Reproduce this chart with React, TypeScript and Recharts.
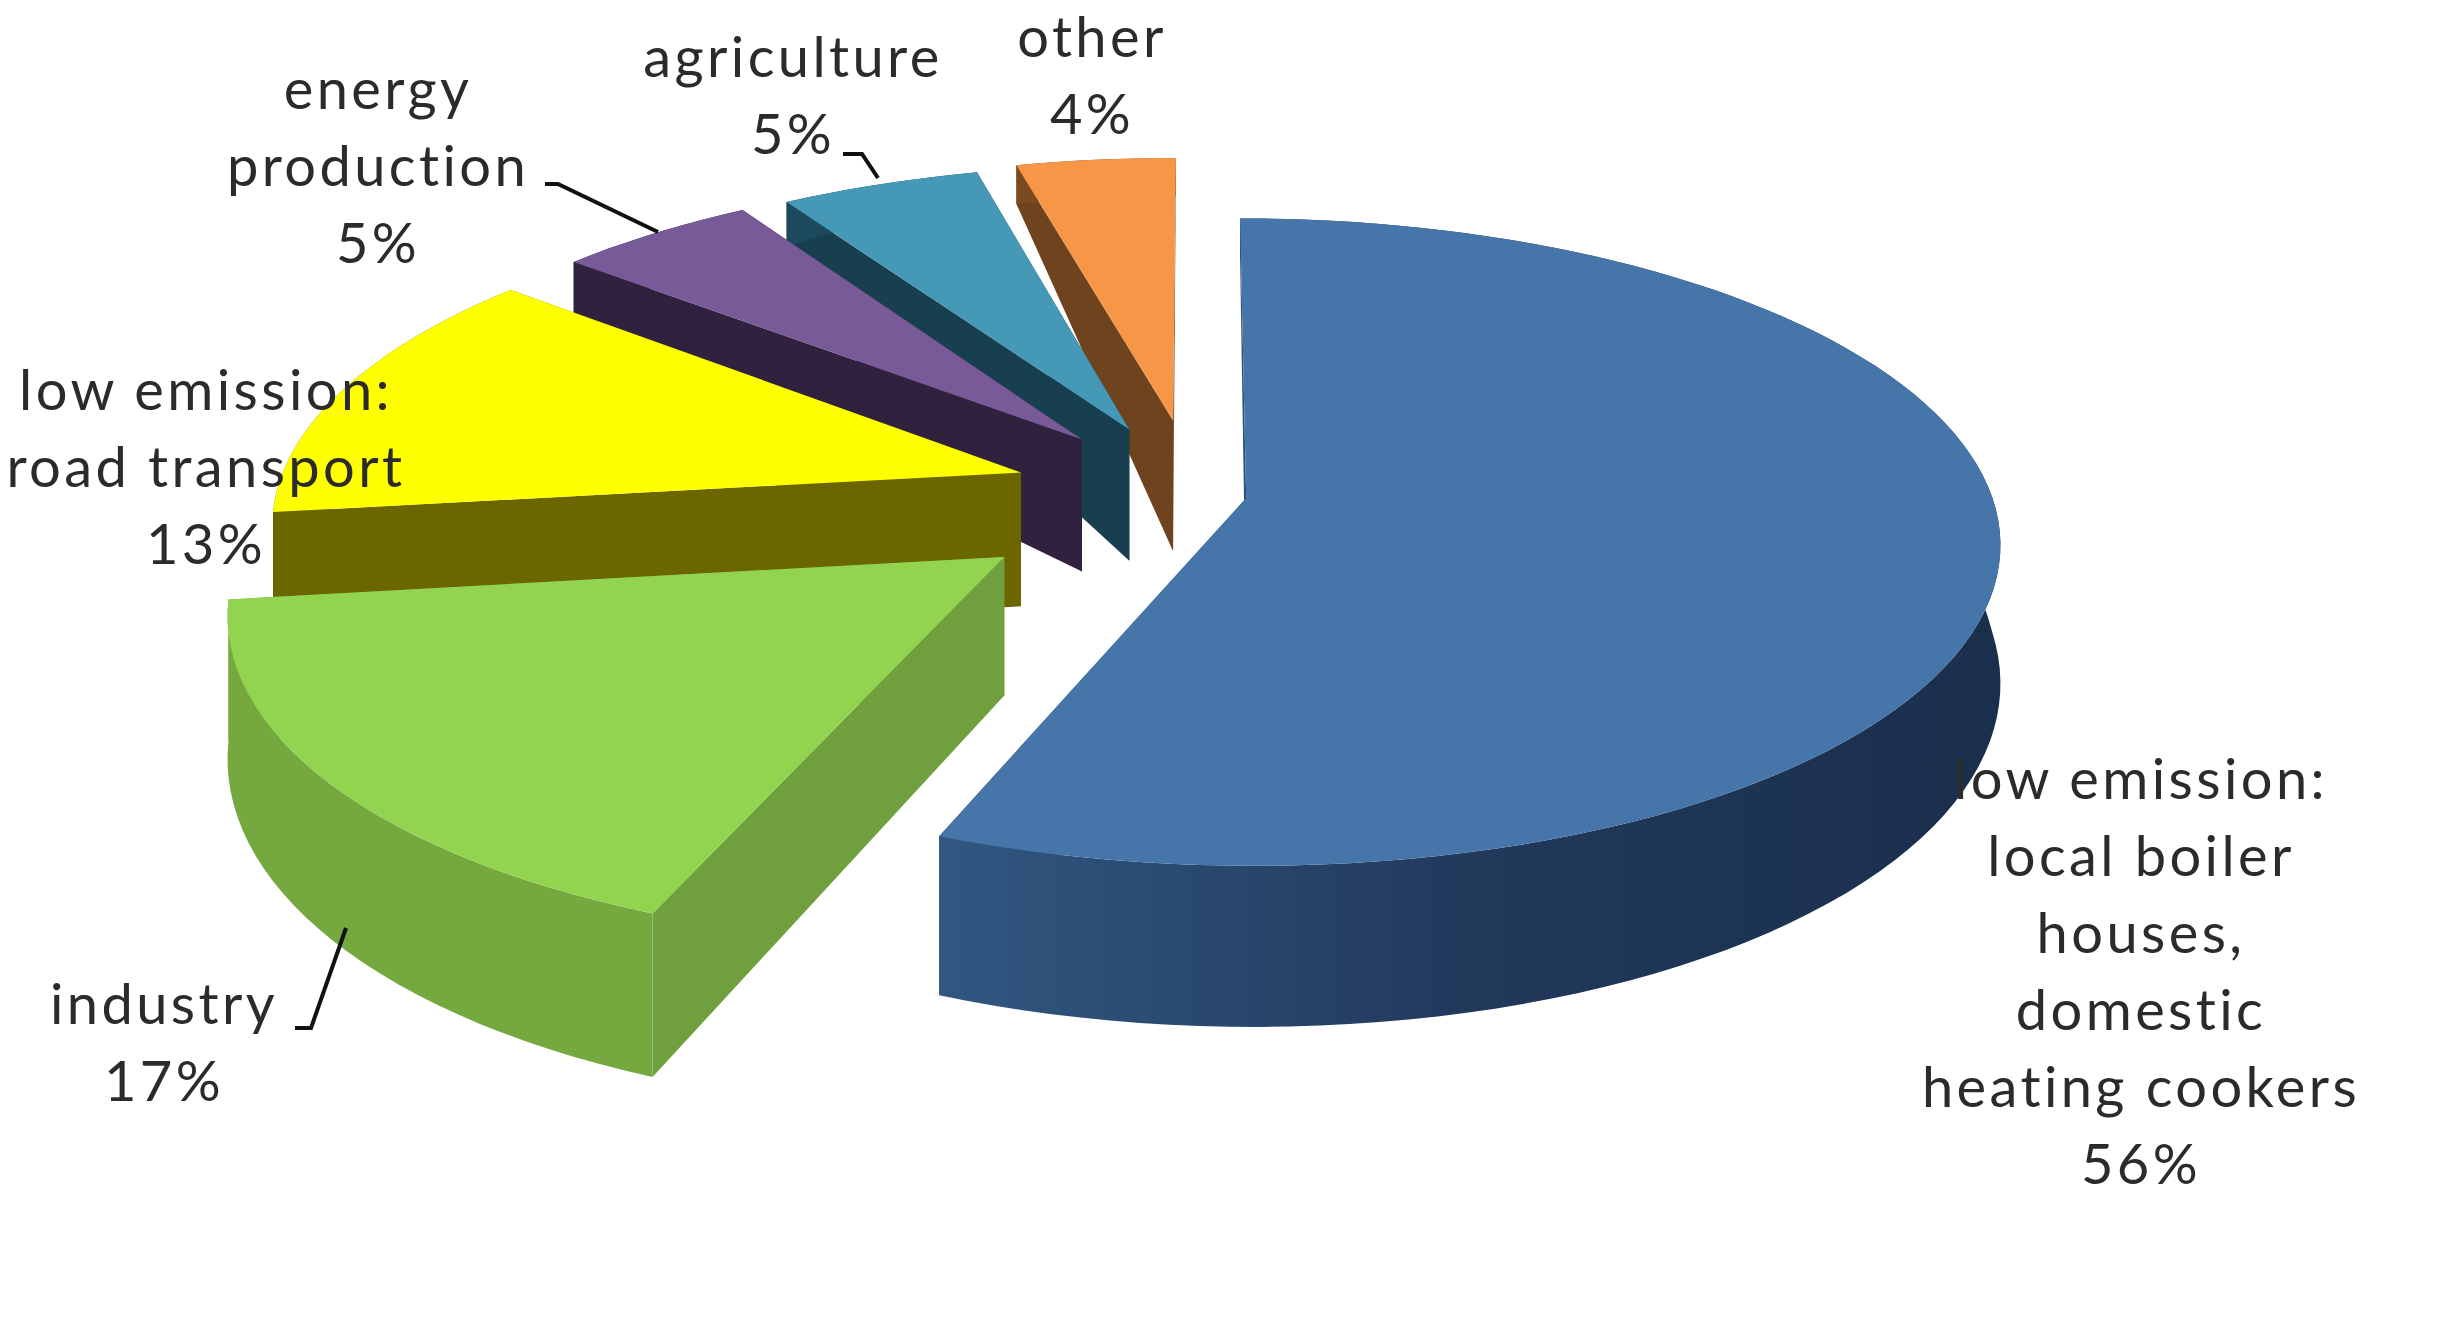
import React from "react";
import { PieChart, Pie } from "recharts";

// listed counter-clockwise from 12 o'clock so the far slices are painted first
const names = ["other", "agriculture", "energy production", "low emission: road transport", "industry", "low emission: local boiler houses, domestic heating cookers"];
const shares = [4, 5, 5, 13, 17, 56];
const labelLines = [
  ["other", "4%"],
  ["agriculture", "5%"],
  ["energy", "production", "5%"],
  ["low emission:", "road transport", "13%"],
  ["industry", "17%"],
  ["low emission:", "local boiler", "houses,", "domestic", "heating cookers", "56%"],
];

const topColors = ["#f79646", "#4699b6", "#775a97", "#ffff00", "#92d450", "#4675aa"];
const cutColors = ["#6e431e", "#173f4f", "#30213f", "#6b6600", "#70a03e", "#2c4e78"];
const wallColors = ["#7a4a20", "#1c4a5c", "#30213f", "#6b6600", "#76a840", "url(#blueWall)"];
const explode = [180, 170, 175, 183, 235, 52];
const labelAnchors = [
  { x: 1092, y: 57 },
  { x: 793, y: 77 },
  { x: 378, y: 109 },
  { x: 206, y: 410 },
  { x: 164, y: 1024 },
  { x: 2141, y: 799 },
];
const leaders: (string | null)[] = [
  null,
  "M 843 154 L 862 154 L 878 178",
  "M 545 184 L 558 184 L 658 232",
  null,
  "M 295 1028 L 311 1028 L 346 928",
  null,
];

const data = names.map((name, i) => ({ name, value: shares[i] }));

const CX = 1195;
const CY = 494;
const RADIUS = 745;
const VIEW_DIST = 5500;
const TILT = 0.425;
const DEPTH = 135;

const rad = (deg: number) => (deg * Math.PI) / 180;

function project(u: number, v: number) {
  const s = VIEW_DIST / (VIEW_DIST - v);
  return { x: CX + u * s, y: CY + v * TILT * s, s };
}

// the height of the slab fades towards the back of the pie
function wallHeight(localV: number) {
  return localV < 0 ? Math.max(45, DEPTH + localV * 100) : DEPTH + localV * 4;
}

const ptsToPath = (pts: { x: number; y: number }[]) =>
  "M" + pts.map((p) => `${p.x.toFixed(1)} ${p.y.toFixed(1)}`).join("L") + "Z";

const Slice3D = (props: any) => {
  const { startAngle, endAngle, outerRadius, index } = props;
  const mid = (startAngle + endAngle) / 2;
  const off = explode[index];
  const ox = off * Math.cos(rad(mid));
  const oy = -off * Math.sin(rad(mid));

  const top = (r: number, a: number) => project(ox + r * Math.cos(rad(a)), oy - r * Math.sin(rad(a)));
  const bottom = (r: number, a: number) => {
    const p = top(r, a);
    const h = wallHeight(-(r / outerRadius) * Math.sin(rad(a)));
    return { x: p.x, y: p.y + h * p.s };
  };

  const angles: number[] = [];
  const steps = Math.max(4, Math.ceil((endAngle - startAngle) / 2));
  for (let i = 0; i <= steps; i++) angles.push(startAngle + ((endAngle - startAngle) * i) / steps);

  const apex = top(0, 0);
  const apexLow = bottom(0, 0);
  const rim = angles.map((a) => top(outerRadius, a));
  const rimLow = angles.map((a) => bottom(outerRadius, a));
  const cut = (a: number) => ptsToPath([apex, top(outerRadius, a), bottom(outerRadius, a), apexLow]);

  return (
    <g>
      <path d={cut(startAngle)} fill={cutColors[index]} />
      <path d={cut(endAngle)} fill={cutColors[index]} />
      <path d={ptsToPath([...rim, ...[...rimLow].reverse()])} fill={wallColors[index]} />
      <path d={ptsToPath([apex, ...rim])} fill={topColors[index]} />
    </g>
  );
};

const renderLabel = (props: any) => {
  const { index } = props;
  const anchor = labelAnchors[index];
  return (
    <g key={index}>
      {leaders[index] && <path d={leaders[index] as string} fill="none" stroke="#111" strokeWidth={4} />}
      <text
        textAnchor="middle"
        fontFamily="Lato"
        fontSize={56}
        letterSpacing={3.4}
        fill="#2b2b2b"
      >
        {labelLines[index].map((line, i) => (
          <tspan key={i} x={anchor.x} y={anchor.y + i * 77}>
            {line}
          </tspan>
        ))}
      </text>
    </g>
  );
};

export default function App() {
  return (
    <div style={{ position: "absolute", left: 0, top: 0, background: "#fff" }}>
      <PieChart width={2461} height={1329} margin={{ top: 0, right: 0, bottom: 0, left: 0 }}>
        <defs>
          <linearGradient id="blueWall" gradientUnits="userSpaceOnUse" x1="940" y1="0" x2="1990" y2="0">
            <stop offset="0" stopColor="#315781" />
            <stop offset="0.5" stopColor="#22395c" />
            <stop offset="1" stopColor="#1a2f4c" />
          </linearGradient>
        </defs>
        <Pie
          data={data}
          dataKey="value"
          nameKey="name"
          cx={CX}
          cy={CY}
          innerRadius={0}
          outerRadius={RADIUS}
          startAngle={90}
          endAngle={450}
          paddingAngle={0}
          stroke="none"
          shape={Slice3D}
          label={renderLabel}
          labelLine={false}
          isAnimationActive={false}
        />
      </PieChart>
    </div>
  );
}
